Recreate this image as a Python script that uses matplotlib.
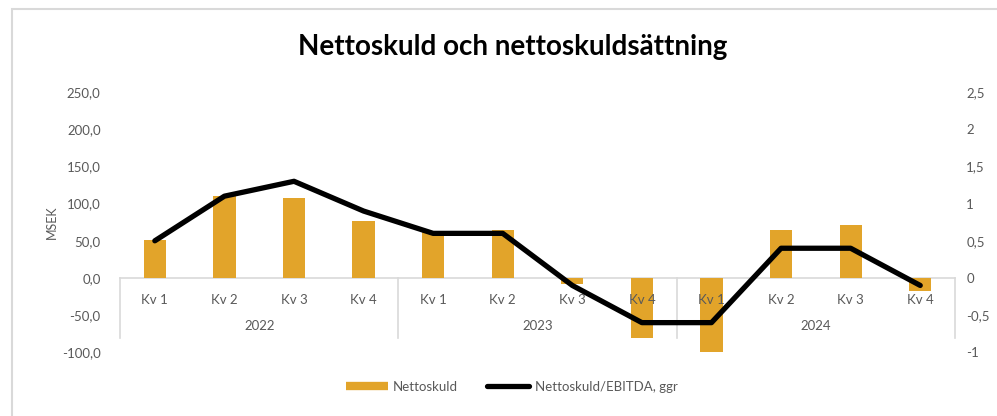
import matplotlib
matplotlib.use('Agg')
import matplotlib.pyplot as plt
from matplotlib.lines import Line2D
from matplotlib.patches import Rectangle

plt.rcParams['font.family'] = ['Lato', 'DejaVu Sans']

years = ['2022', '2023', '2024']
quarters = ['Kv 1', 'Kv 2', 'Kv 3', 'Kv 4']
nettoskuld = [51, 110, 108, 77, 62, 64, -8, -80, -101, 65, 71, -17]
skuldsattning = [0.5, 1.1, 1.3, 0.9, 0.6, 0.6, -0.1, -0.6, -0.6, 0.4, 0.4, -0.1]
left_ticks = [-100, -50, 0, 50, 100, 150, 200, 250]
right_ticks = [-1, -0.5, 0, 0.5, 1, 1.5, 2, 2.5]

GOLD = '#E2A42A'
GRID = '#D9D9D9'
TXT = '#595959'


def fmt_sv(v, decimals):
    s = f'{v:.{decimals}f}' if decimals else f'{v:g}'
    return s.replace('.', ',')


fig = plt.figure(figsize=(9.97, 4.16), dpi=100)
ax = fig.add_axes([0.1204, 0.1529, 0.8375, 0.6259])
ax2 = ax.twinx()

x = list(range(len(nettoskuld)))
ax.bar(x, nettoskuld, width=0.32, color=GOLD, zorder=2)
ax2.plot(x, skuldsattning, color='black', lw=3.8, solid_capstyle='round',
         solid_joinstyle='round', zorder=3)

ax.set_xlim(-0.5, len(x) - 0.5)
ax.set_ylim(-100, 250)
ax2.set_ylim(-1, 2.5)

ax.set_yticks(left_ticks)
ax.set_yticklabels([fmt_sv(v, 1) for v in left_ticks])
ax2.set_yticks(right_ticks)
ax2.set_yticklabels([fmt_sv(v, 0) for v in right_ticks])
ax.set_xticks([])

for a in (ax, ax2):
    for s in a.spines.values():
        s.set_visible(False)
    a.tick_params(axis='y', length=0, labelsize=9.5, labelcolor=TXT)
ax.tick_params(axis='y', pad=14)
ax2.tick_params(axis='y', pad=8)

ax.set_ylabel('MSEK', fontsize=9, color=TXT)
ax.yaxis.set_label_coords(-0.075, 0.5)

# category axis at zero with quarter and year labels
ax.plot([-0.5, len(x) - 0.5], [0, 0], color=GRID, lw=1.2, zorder=1, clip_on=False)
for i in x:
    ax.text(i, -29, quarters[i % 4], ha='center', va='center', fontsize=9.5,
            color=TXT, clip_on=False)
for j, yr in enumerate(years):
    ax.text(j * 4 + 1.5, -64, yr, ha='center', va='center', fontsize=9.5,
            color=TXT, clip_on=False)
for sep in range(0, len(x) + 1, 4):
    ax.plot([sep - 0.5, sep - 0.5], [0, -81], color=GRID, lw=1.2, zorder=1,
            clip_on=False)

fig.text(0.5138, 0.887, 'Nettoskuld och nettoskuldsättning', ha='center',
         va='center', fontsize=20, fontweight='bold', color='black')

handles = [Line2D([], [], color=GOLD, lw=6, solid_capstyle='butt'),
           Line2D([], [], color='black', lw=3.8, solid_capstyle='round')]
fig.legend(handles, ['Nettoskuld', 'Nettoskuld/EBITDA, ggr'], loc='center',
           bbox_to_anchor=(0.513, 0.07), ncol=2, frameon=False, fontsize=9.5,
           labelcolor=TXT, handlelength=3.2, handletextpad=0.4, columnspacing=2.2)

fig.patches.append(Rectangle((12 / 997, -0.1), 1.2, 1.1 + (416 - 9.5) / 416 - 1,
                             transform=fig.transFigure, fill=False,
                             edgecolor=GRID, lw=1.5))

fig.savefig('out.png', dpi=100, facecolor='white')
plt.close(fig)
